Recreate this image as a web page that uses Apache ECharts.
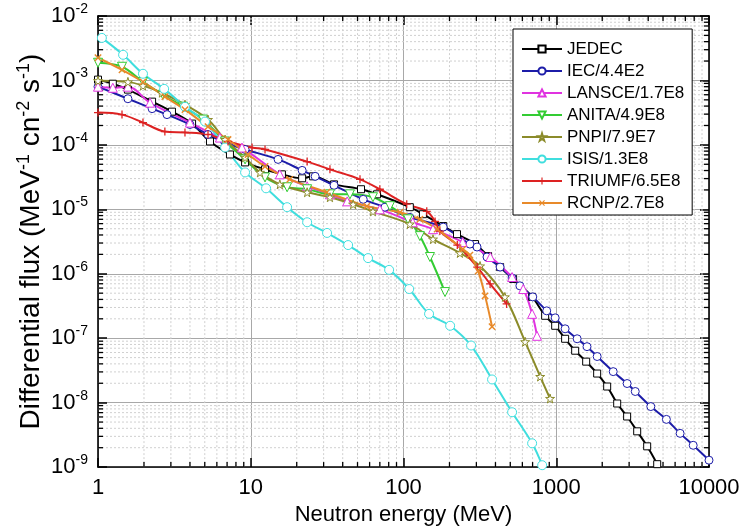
<!DOCTYPE html>
<html><head><meta charset="utf-8">
<script src="https://cdn.jsdelivr.net/npm/echarts@6/dist/echarts.min.js"></script>
<style>html,body{margin:0;padding:0;background:#fff}#c{width:743px;height:531px}</style>
</head><body><div id="c"></div>
<script>
const seriesNames = ['JEDEC','IEC/4.4E2','LANSCE/1.7E8','ANITA/4.9E8','PNPI/7.9E7','ISIS/1.3E8','TRIUMF/6.5E8','RCNP/2.7E8'];
const xDecades = [1,10,100,1000];
const yDecades = [1e-9,1e-8,1e-7,1e-6,1e-5,1e-4,1e-3];
const minorMult = [2,3,4,5,6,7,8,9];

const jedecE = [1,1.25,1.57,2.26,3.05,4.13,5.41,7.31,9.18,12.4,16.0,21.7,25.6,35.1,52.7,67.1,110,134,182,224,294,358,429,522,695,846,984,1143,1330,1570,1853,2155,2506,2911,3388,3938,4581];
const jedecF = [1.03e-3,8.9e-4,7.2e-4,4.69e-4,3.28e-4,2.14e-4,1.13e-4,7.1e-5,5.35e-5,4.17e-5,3.49e-5,3.03e-5,3.25e-5,2.44e-5,2.05e-5,1.71e-5,1.08e-5,8.4e-6,5.5e-6,4.12e-6,2.89e-6,1.88e-6,1.27e-6,8.3e-7,4.38e-7,2.23e-7,1.56e-7,9.8e-8,6.4e-8,4.33e-8,2.83e-8,1.78e-8,9.7e-9,6.1e-9,3.59e-9,2.1e-9,1.11e-9];

const iecE = [1,1.57,2.26,2.83,4.0,5.25,6.79,9.18,15.1,21.7,26.4,35.1,54.5,75.6,110,182,272,303,352,429,514,578,702,866,984,1143,1370,1590,1853,2360,2910,3290,4160,5260,6470,7880,10000];
const iecF = [8.0e-4,5.2e-4,3.65e-4,2.95e-4,2.07e-4,1.45e-4,1.09e-4,8.5e-5,5.95e-5,4.02e-5,3.25e-5,2.36e-5,1.43e-5,1.08e-5,7.5e-6,5.3e-6,2.89e-6,2.6e-6,1.82e-6,1.27e-6,8.6e-7,6.5e-7,4.38e-7,2.66e-7,2.07e-7,1.4e-7,9.8e-8,7.4e-8,5.2e-8,3.03e-8,1.98e-8,1.49e-8,8.7e-9,5.5e-9,3.34e-9,2.18e-9,1.28e-9];

const lansceE = [1,1.25,1.57,2.19,4.0,6.28,8.76,15.5,23.4,33.0,42.8,70.0,115,156,244,370,514,608,695,748];
const lansceF = [8.0e-4,7.7e-4,8.0e-4,4.52e-4,2.22e-4,1.30e-4,9.1e-5,3.49e-5,2.28e-5,1.71e-5,1.33e-5,1.0e-5,6.3e-6,4.92e-6,3.1e-6,1.82e-6,8.9e-7,5.8e-7,2.39e-7,1.09e-7];

const anitaE = [1,1.436,1.97,2.66,3.60,4.87,6.79,9.18,12.4,17.3,23.4,33.0,44.6,63.1,81.5,107,128,149,187];
const anitaF = [1.88e-3,1.63e-3,9.5e-4,6.0e-4,3.92e-4,2.47e-4,1.13e-4,5.95e-5,3.13e-5,2.2e-5,2.05e-5,1.71e-5,1.71e-5,1.54e-5,1.12e-5,7.0e-6,3.84e-6,1.82e-6,5.2e-7];

const pnpiE = [1,1.57,1.97,2.62,3.71,5.25,6.79,9.18,11.5,15.5,23.4,33.0,46.8,63.1,110,156,234,317,461,626,785,911];
const pnpiF = [9.9e-4,9.5e-4,8.3e-4,6.45e-4,4.21e-4,2.47e-4,1.21e-4,6.4e-5,3.74e-5,2.44e-5,1.84e-5,1.54e-5,1.2e-5,9.3e-6,5.9e-6,3.45e-6,2.1e-6,1.32e-6,4.38e-7,8.8e-8,2.54e-8,1.16e-8];

const isisE = [1.06,1.46,1.97,2.71,3.71,5.02,6.79,9.18,12.6,17.3,23.4,31.6,43.4,58.6,80.5,109,147,202,277,380,514,695,809];
const isisF = [4.57e-3,2.5e-3,1.27e-3,7.4e-4,3.9e-4,2.3e-4,9.1e-5,3.74e-5,2.12e-5,1.08e-5,6.3e-6,4.3e-6,2.79e-6,1.75e-6,1.15e-6,5.8e-7,2.39e-7,1.56e-7,7.7e-8,2.29e-8,7.1e-9,2.34e-9,1.07e-9];

const triumfE = [1,1.436,1.97,2.74,3.71,5.25,7.1,10.2,12.4,23.4,33.0,51.9,70.0,105,142,161,173,225,304,369,473];
const triumfF = [3.17e-4,2.95e-4,2.22e-4,1.61e-4,1.56e-4,1.45e-4,1.13e-4,9.1e-5,8.5e-5,5.5e-5,4.17e-5,2.92e-5,2.05e-5,1.2e-5,9.3e-6,6.5e-6,4.59e-6,2.79e-6,1.27e-6,6.95e-7,3.41e-7];

const rcnpE = [1,1.436,1.97,2.74,3.71,5.25,7.1,9.6,12.4,18.0,31.5,57.6,95,128,166,244,272,308,342,380];
const rcnpF = [2.25e-3,1.46e-3,9.5e-4,5.6e-4,3.52e-4,1.92e-4,1.21e-4,7.1e-5,4.63e-5,2.92e-5,1.84e-5,1.12e-5,9.0e-6,7.0e-6,4.92e-6,2.41e-6,1.95e-6,1.1e-6,4.54e-7,1.51e-7];

const FONT = '"Liberation Sans", Arial, sans-serif';
const STAR = 'path://M50,0 L61,35 L98,35 L68,57 L79,91 L50,70 L21,91 L32,57 L2,35 L39,35 Z';
const PLUS = 'path://M4.2,0 H5.8 V4.2 H10 V5.8 H5.8 V10 H4.2 V5.8 H0 V4.2 H4.2 Z';
const XMIN = 1, XMAX = 10000, YMIN = 1e-9, YMAX = 1e-2;

function pairs(xs, ys){ return xs.map((x,i)=>[x, ys[i]]); }

const styles = [
  {c:'#000000', sym:'rect', size:7, hollow:true},
  {c:'#1c1ca8', sym:'circle', size:8, hollow:true},
  {c:'#e033e0', sym:'triangle', size:9, hollow:true},
  {c:'#33cc33', sym:'triangle', size:9, hollow:true, rot:180},
  {c:'#8b8b2a', sym:STAR, size:9, hollow:true},
  {c:'#3fdede', sym:'circle', size:9, hollow:true},
  {c:'#dd2222', sym:PLUS, size:8, hollow:false},
  {c:'#e88a2a', sym:PLUS, size:9, hollow:false, rot:45}
];
const dataSets = [pairs(jedecE,jedecF),pairs(iecE,iecF),pairs(lansceE,lansceF),pairs(anitaE,anitaF),pairs(pnpiE,pnpiF),pairs(isisE,isisF),pairs(triumfE,triumfF),pairs(rcnpE,rcnpF)];

const series = seriesNames.map((n,i)=>{
  const s = styles[i];
  return {
    name:n, type:'line', data:dataSets[i], smooth:0.35,
    symbol:s.sym, symbolSize:s.size, symbolRotate:s.rot||0, showAllSymbol:true,
    lineStyle:{color:s.c, width:2},
    itemStyle: s.hollow ? {color:'#ffffff', borderColor:s.c, borderWidth:1} : {color:s.c, borderWidth:0},
    emphasis:{disabled:true}, animation:false, z: 3
  };
});

// minor grid lines + minor ticks (2..9 within each decade), positioned by the axes
const xMinorVals = [], yMinorVals = [];
xDecades.forEach(d=>minorMult.forEach(m=>xMinorVals.push([d*m, YMIN])));
yDecades.forEach(d=>minorMult.forEach(m=>yMinorVals.push([XMIN, d*m])));
const TL = 5;
series.push({
  type:'custom', silent:true, z:1, animation:false, data:xMinorVals, clip:false,
  renderItem:(params, api)=>{
    const p0 = api.coord([api.value(0), YMIN]);
    const p1 = api.coord([api.value(0), YMAX]);
    return {type:'group', children:[
      {type:'line', shape:{x1:p0[0], y1:p0[1], x2:p1[0], y2:p1[1]}, style:{stroke:'#d0d0d0', lineWidth:1, lineDash:[2,2]}},
      {type:'line', z2:10, shape:{x1:p0[0], y1:p0[1], x2:p0[0], y2:p0[1]-TL}, style:{stroke:'#000', lineWidth:1.3}},
      {type:'line', z2:10, shape:{x1:p1[0], y1:p1[1], x2:p1[0], y2:p1[1]+TL}, style:{stroke:'#000', lineWidth:1.3}}
    ]};
  }
});
series.push({
  type:'custom', silent:true, z:1, animation:false, data:yMinorVals, clip:false,
  renderItem:(params, api)=>{
    const p0 = api.coord([XMIN, api.value(1)]);
    const p1 = api.coord([XMAX, api.value(1)]);
    return {type:'group', children:[
      {type:'line', shape:{x1:p0[0], y1:p0[1], x2:p1[0], y2:p1[1]}, style:{stroke:'#d0d0d0', lineWidth:1, lineDash:[2,2]}},
      {type:'line', z2:10, shape:{x1:p0[0], y1:p0[1], x2:p0[0]+TL, y2:p0[1]}, style:{stroke:'#000', lineWidth:1.3}},
      {type:'line', z2:10, shape:{x1:p1[0], y1:p1[1], x2:p1[0]-TL, y2:p1[1]}, style:{stroke:'#000', lineWidth:1.3}}
    ]};
  }
});

function expLabel(v){
  const e = Math.round(Math.log10(v));
  return '{b|10}{s|' + (e<0?'-':'') + Math.abs(e) + '}';
}

const chart = echarts.init(document.getElementById('c'), null, {renderer:'canvas'});
const axisCommon = {
  axisLine:{show:true, onZero:false, lineStyle:{color:'#000', width:1.6}},
  axisTick:{show:true, inside:true, length:9, lineStyle:{color:'#000', width:1.5}},
  minorTick:{show:false},
  minorSplitLine:{show:false}
};
chart.setOption({
  animation:false,
  grid:{left:98, right:34, top:16, bottom:62},
  legend:{
    orient:'vertical', left:513, top:29, itemWidth:40, itemHeight:9, itemGap:4,
    padding:[11,8,3,8], borderColor:'#000', borderWidth:1, backgroundColor:'#fff',
    textStyle:{fontFamily:FONT, fontSize:17, color:'#000', lineHeight:18},
    data: seriesNames
  },
  xAxis:[Object.assign({}, axisCommon, {
    type:'log', logBase:10, min:XMIN, max:XMAX, position:'bottom',
    name:'Neutron energy (MeV)', nameLocation:'middle', nameGap:34,
    nameTextStyle:{fontFamily:FONT, fontSize:22, color:'#000'},
    axisLabel:{fontFamily:FONT, fontSize:22, color:'#000', margin:10, formatter:(v)=>String(v)},
    splitLine:{show:true, lineStyle:{color:'#a8a8a8', width:1}}
  }), Object.assign({}, axisCommon, {
    type:'log', logBase:10, min:XMIN, max:XMAX, position:'top',
    axisLabel:{show:false}, splitLine:{show:false}
  })],
  yAxis:[Object.assign({}, axisCommon, {
    type:'log', logBase:10, min:YMIN, max:YMAX, interval:1, position:'left',
    name:'Differential flux (MeV{s|-1} cn{s|-2} s{s|-1})', nameLocation:'middle', nameGap:51, nameRotate:90,
    nameMoveOverlap:false,
    nameTextStyle:{fontFamily:FONT, fontSize:28, color:'#000', rich:{s:{fontFamily:FONT, fontSize:18, color:'#000', padding:[0,0,14,0]}}},
    axisLabel:{fontFamily:FONT, color:'#000', margin:10, formatter:expLabel,
      rich:{b:{fontFamily:FONT, fontSize:22, color:'#000'}, s:{fontFamily:FONT, fontSize:14, color:'#000', padding:[0,0,14,0]}}},
    splitLine:{show:true, lineStyle:{color:'#a8a8a8', width:1}}
  }), Object.assign({}, axisCommon, {
    type:'log', logBase:10, min:YMIN, max:YMAX, interval:1, position:'right',
    axisLabel:{show:false}, splitLine:{show:false}
  })],
  series: series
});
</script></body></html>
